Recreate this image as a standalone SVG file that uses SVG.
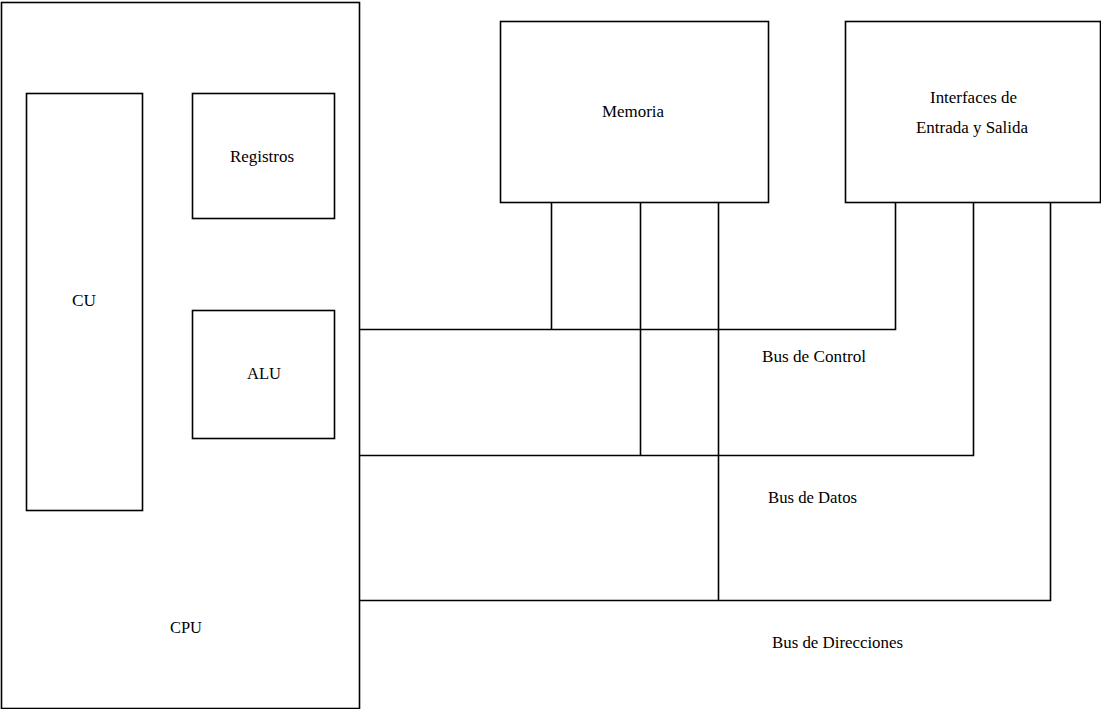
<svg xmlns="http://www.w3.org/2000/svg" width="1101" height="709" viewBox="0 0 1101 709">
<style>
.box{fill:#fff;stroke:#000;stroke-width:1.6}
.ln{fill:none;stroke:#000;stroke-width:1.6}
.t{font-family:"Liberation Serif","Times New Roman",serif;font-size:16px;fill:#000}
</style>
<rect width="1101" height="709" fill="#fff"/>
<g id="cpu">
<rect class="box" x="1.5" y="2.5" width="358" height="706"/>
<text class="t" x="170" y="633" textLength="32" lengthAdjust="spacingAndGlyphs">CPU</text>
</g>
<g id="cu">
<rect class="box" x="26.5" y="93.5" width="116" height="417"/>
<text class="t" x="72" y="306" textLength="24" lengthAdjust="spacingAndGlyphs">CU</text>
</g>
<g id="registros">
<rect class="box" x="192.5" y="93.5" width="142" height="125"/>
<text class="t" x="230" y="162" textLength="64" lengthAdjust="spacingAndGlyphs">Registros</text>
</g>
<g id="alu">
<rect class="box" x="192.5" y="310.5" width="142" height="128"/>
<text class="t" x="247" y="379" textLength="34" lengthAdjust="spacingAndGlyphs">ALU</text>
</g>
<g id="memoria">
<rect class="box" x="500.5" y="21.5" width="268" height="181"/>
<text class="t" x="602" y="117" textLength="62" lengthAdjust="spacingAndGlyphs">Memoria</text>
</g>
<g id="io">
<rect class="box" x="845.5" y="21.5" width="255" height="181"/>
<text class="t" x="930" y="102.5" textLength="87" lengthAdjust="spacingAndGlyphs">Interfaces de</text>
<text class="t" x="916" y="132.5" textLength="112" lengthAdjust="spacingAndGlyphs">Entrada y Salida</text>
</g>
<g id="connectors">
<polyline class="ln" points="551.5,202.5 551.5,329.5"/>
<polyline class="ln" points="640.5,202.5 640.5,455.5"/>
<polyline class="ln" points="718.5,202.5 718.5,600.5"/>
<polyline class="ln" points="359.5,329.5 895.5,329.5 895.5,202.5"/>
<polyline class="ln" points="359.5,455.5 973.5,455.5 973.5,202.5"/>
<polyline class="ln" points="359.5,600.5 1050.5,600.5 1050.5,202.5"/>
</g>
<g id="bus-labels">
<text class="t" x="762" y="362" textLength="104" lengthAdjust="spacingAndGlyphs">Bus de Control</text>
<text class="t" x="768" y="502.5" textLength="89" lengthAdjust="spacingAndGlyphs">Bus de Datos</text>
<text class="t" x="772" y="648" textLength="131" lengthAdjust="spacingAndGlyphs">Bus de Direcciones</text>
</g>
</svg>
